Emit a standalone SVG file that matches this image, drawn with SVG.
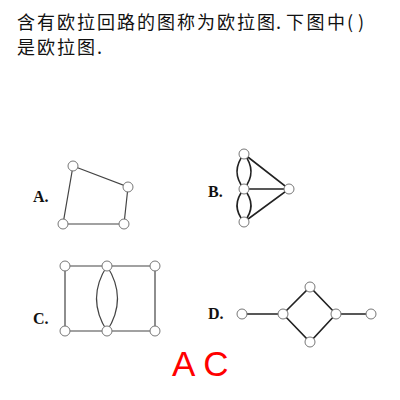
<svg xmlns="http://www.w3.org/2000/svg" width="400" height="400" viewBox="0 0 400 400">
<style>
.q{font-family:"Noto Sans CJK SC","Noto Sans CJK JP",sans-serif;font-size:18px;fill:#111}
.lb{font-family:"Liberation Serif","Times New Roman",serif;font-size:16px;font-weight:bold;fill:#111}
.n{fill:#fff;stroke:#777;stroke-width:1}
.e{fill:none;stroke:#444;stroke-width:1.2}
.e2{fill:none;stroke:#222;stroke-width:1.6}
.ans{font-family:"Liberation Sans",Arial,sans-serif;font-size:35px;fill:#f00}
</style>
<rect width="400" height="400" fill="#fff"/>
<g id="question">
<text class="q" y="29"><tspan x="17" letter-spacing="2">含有欧拉回路的图称为欧拉图</tspan><tspan x="276">.</tspan><tspan x="286" letter-spacing="2.5">下图中</tspan><tspan x="347">(</tspan><tspan x="358">)</tspan></text>
<text class="q" y="54"><tspan x="17" letter-spacing="2">是欧拉图</tspan><tspan x="97">.</tspan></text>
</g>
<g id="labels">
<text class="lb" x="33" y="202">A.</text>
<text class="lb" x="208" y="197">B.</text>
<text class="lb" x="33" y="324">C.</text>
<text class="lb" x="208" y="319">D.</text>
</g>
<g id="connectors">
<g id="edgesA" class="e" stroke="#555">
<path d="M73 166L128 187L124 224L63 224Z"/>
</g>
<g id="edgesB" class="e2">
<path d="M244 154Q230 171.5 244 189"/>
<path d="M244 154Q258 171.5 244 189"/>
<path d="M244 189Q230 205.5 244 222"/>
<path d="M244 189Q258 205.5 244 222"/>
<path d="M244 154L289 189L244 222M244 189L289 189"/>
</g>
<g id="edgesC" class="e">
<path d="M65 266H155V331H65Z"/>
<path d="M107 266Q86 298.5 107 331"/>
<path d="M107 266Q128 298.5 107 331"/>
</g>
<g id="edgesD" class="e2">
<path d="M242 314H283L310 287L336 314H371M283 314L310 342L336 314"/>
</g>
</g>
<g id="nodesA">
<circle class="n" cx="73" cy="166" r="5"/>
<circle class="n" cx="128" cy="187" r="5"/>
<circle class="n" cx="124" cy="224" r="5"/>
<circle class="n" cx="63" cy="224" r="5"/>
</g>
<g id="nodesB">
<circle class="n" cx="244" cy="154" r="5"/>
<circle class="n" cx="244" cy="189" r="5"/>
<circle class="n" cx="244" cy="222" r="5"/>
<circle class="n" cx="289" cy="189" r="5"/>
</g>
<g id="nodesC">
<circle class="n" cx="65" cy="266" r="5"/>
<circle class="n" cx="107" cy="266" r="5"/>
<circle class="n" cx="155" cy="266" r="5"/>
<circle class="n" cx="65" cy="331" r="5"/>
<circle class="n" cx="107" cy="331" r="5"/>
<circle class="n" cx="155" cy="331" r="5"/>
</g>
<g id="nodesD">
<circle class="n" cx="242" cy="314" r="5"/>
<circle class="n" cx="283" cy="314" r="5"/>
<circle class="n" cx="310" cy="287" r="5"/>
<circle class="n" cx="310" cy="342" r="5"/>
<circle class="n" cx="336" cy="314" r="5"/>
<circle class="n" cx="371" cy="314" r="5"/>
</g>
<text id="answer" class="ans" x="172" y="376">A C</text>
</svg>
